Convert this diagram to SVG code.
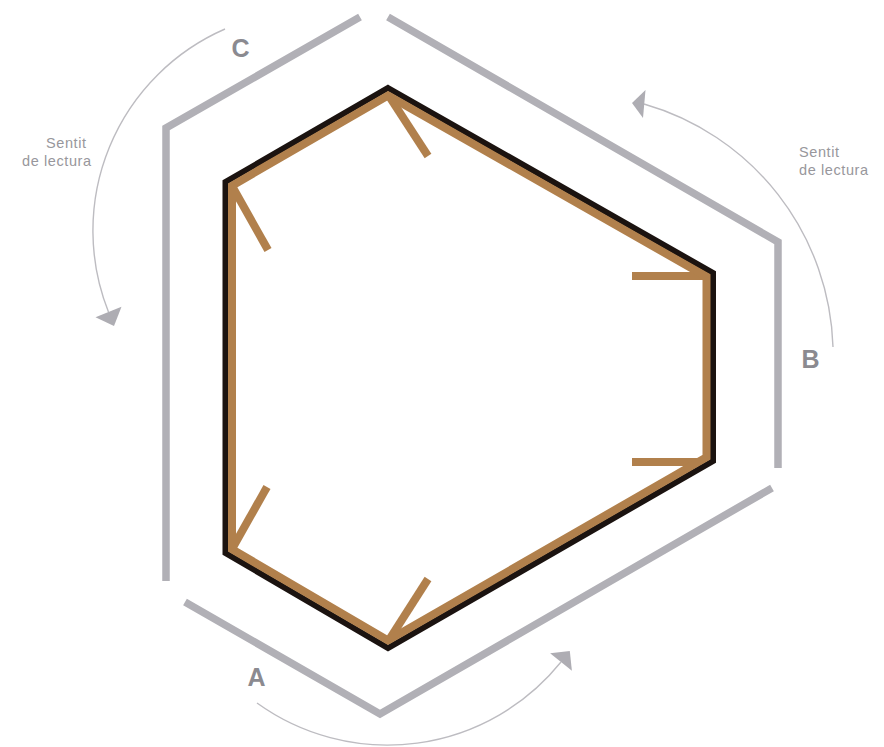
<svg xmlns="http://www.w3.org/2000/svg" width="884" height="747" viewBox="0 0 884 747">
  <style>
    .seg { fill: none; stroke: #b1b0b6; stroke-width: 7.5; stroke-linejoin: miter; stroke-linecap: butt; }
    .black { fill: none; stroke: #1b1310; stroke-width: 6; stroke-linejoin: miter; }
    .brown { fill: none; stroke: #b1804c; stroke-width: 8; stroke-linejoin: miter; }
    .tick { stroke: #b1804c; stroke-width: 8; stroke-linecap: butt; }
    .arc { fill: none; stroke: #bdbcc1; stroke-width: 1.4; }
    .head { fill: #aeadb3; }
    .letter { font-family: "Liberation Sans", Arial, sans-serif; font-weight: bold; font-size: 25px; fill: #8b8a90; text-anchor: middle; }
    .note { font-family: "Liberation Sans", Arial, sans-serif; font-size: 14.5px; letter-spacing: 0.6px; fill: #98979c; }
  </style>

  <g id="segment-C">
    <polyline class="seg" points="360,17 166,128 166,581"/>
    <text class="letter" x="240.5" y="57">C</text>
  </g>
  <g id="segment-B">
    <polyline class="seg" points="388,17 778,242 778,468"/>
    <text class="letter" x="810.5" y="368">B</text>
  </g>
  <g id="segment-A">
    <polyline class="seg" points="185,602 380,714 772,488"/>
    <text class="letter" x="256.5" y="686">A</text>
  </g>

  <g id="frame">
    <g id="ticks">
      <line class="tick" x1="389" y1="96" x2="428" y2="156"/>
      <line class="tick" x1="232" y1="186" x2="268" y2="250"/>
      <line class="tick" x1="632" y1="276" x2="706" y2="276"/>
      <line class="tick" x1="632" y1="462" x2="700" y2="462"/>
      <line class="tick" x1="232" y1="549" x2="267" y2="487"/>
      <line class="tick" x1="389" y1="640" x2="428" y2="579"/>
    </g>
    <polygon class="black" points="388,88 713,273 713,461 388,648 225.5,553 225.5,182"/>
    <polygon class="brown" points="388,95.5 706.5,276.7 706.5,457.2 388,640.5 232,549.2 232,185.7"/>
  </g>

  <g id="connectors">
    <path class="arc" d="M225,29 A220,220 0 0 0 108.5,312"/>
    <polygon class="head" points="95.5,317.2 121.5,306.8 114,326"/>
    <path class="arc" d="M833,347 A261,261 0 0 0 644,104"/>
    <polygon class="head" points="645.5,90 643,118 632,103"/>
    <path class="arc" d="M257,703 A223,223 0 0 0 561,662"/>
    <polygon class="head" points="550.1,653.2 571.9,670.8 569.8,651"/>
  </g>

  <g id="notes">
    <text class="note" x="46" y="148">Sentit</text>
    <text class="note" x="22" y="166">de lectura</text>
    <text class="note" x="799" y="157">Sentit</text>
    <text class="note" x="799" y="175">de lectura</text>
  </g>
</svg>
